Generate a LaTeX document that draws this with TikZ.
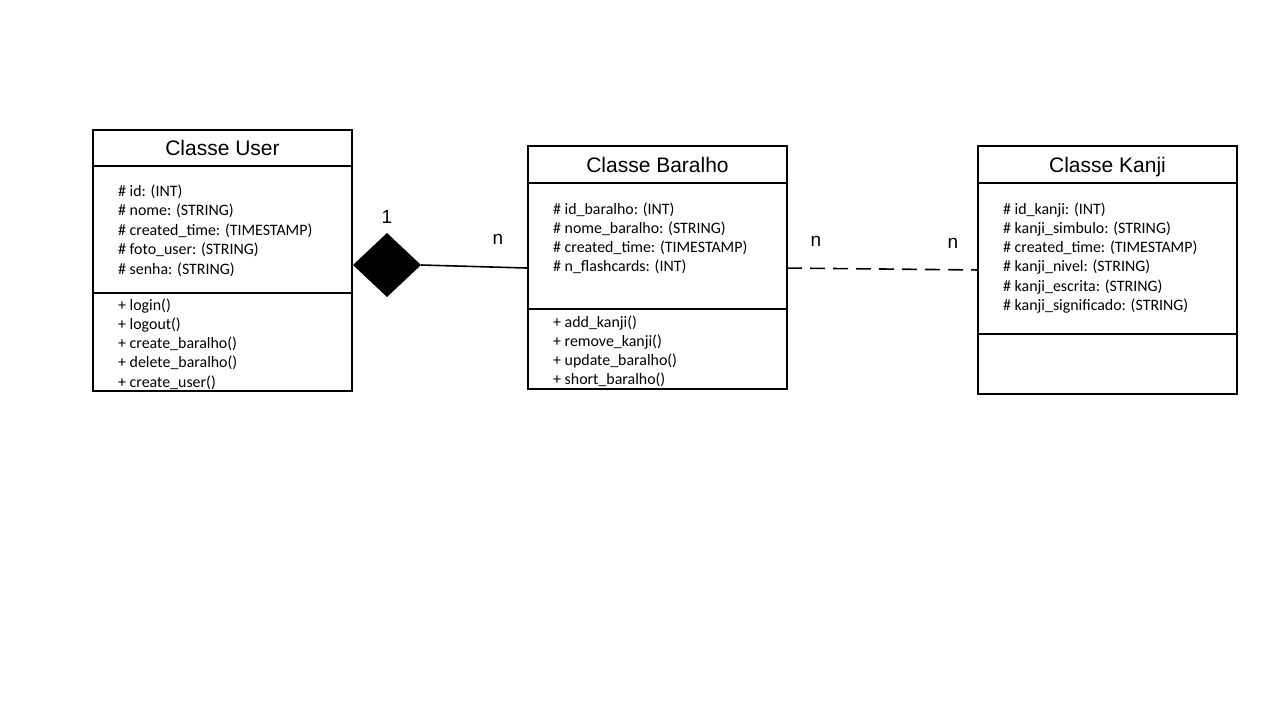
\documentclass[tikz,border=0pt]{standalone}
\usepackage{fontspec}
\setmainfont{Carlito}
\newfontfamily\titlefont{Liberation Sans}
\usetikzlibrary{shapes.geometric,calc}
\begin{document}
\begin{tikzpicture}[x=1pt,y=-1pt,
  cbox/.style={draw=black,line width=1.6pt,anchor=north west,inner sep=0pt,outer sep=0pt},
  ttl/.style={anchor=base,inner sep=0pt,font=\titlefont\fontsize{21}{25}\selectfont},
  attr/.style={anchor=base west,inner sep=0pt,font=\fontsize{15.9}{19}\selectfont},
  lbl/.style={font=\titlefont\fontsize{19}{23}\selectfont,inner sep=0pt},
  conn/.style={line width=1.6pt}]
\useasboundingbox[fill=white] (0,0) rectangle (1280,720);
% Classe User
\node[cbox,minimum width=259pt,minimum height=36pt] (uT) at (93,130) {};
\node[ttl] (uTt) at ($(uT.center)+(0,7.5)$) {Classe User};
\node[cbox,minimum width=259pt,minimum height=127pt] (uA) at (93,166) {};
\node[cbox,minimum width=259pt,minimum height=98pt] (uM) at (93,293) {};
\foreach \t [count=\i] in {{\# id: (INT)},{\# nome: (STRING)},{\# created\_time: (TIMESTAMP)},{\# foto\_user: (STRING)},{\# senha: (STRING)}}
  \node[attr] (ua\i) at (118,{196+19.5*(\i-1)}) {\t};
\foreach \t [count=\i] in {{+ login()},{+ logout()},{+ create\_baralho()},{+ delete\_baralho()},{+ create\_user()}}
  \node[attr] (um\i) at (118,{310+19.3*(\i-1)}) {\t};
% Classe Baralho
\node[cbox,minimum width=259pt,minimum height=37pt] (bT) at (528,146) {};
\node[ttl] (bTt) at ($(bT.center)+(0,7.5)$) {Classe Baralho};
\node[cbox,minimum width=259pt,minimum height=126pt] (bA) at (528,183) {};
\node[cbox,minimum width=259pt,minimum height=80pt] (bM) at (528,309) {};
\foreach \t [count=\i] in {{\# id\_baralho: (INT)},{\# nome\_baralho: (STRING)},{\# created\_time: (TIMESTAMP)},{\# n\_flashcards: (INT)}}
  \node[attr] (ba\i) at (553,{214+19.3*(\i-1)}) {\t};
\foreach \t [count=\i] in {{+ add\_kanji()},{+ remove\_kanji()},{+ update\_baralho()},{+ short\_baralho()}}
  \node[attr] (bm\i) at (553,{327+19.3*(\i-1)}) {\t};
% Classe Kanji
\node[cbox,minimum width=259pt,minimum height=37pt] (kT) at (978,146) {};
\node[ttl] (kTt) at ($(kT.center)+(0,7.5)$) {Classe Kanji};
\node[cbox,minimum width=259pt,minimum height=151pt] (kA) at (978,183) {};
\node[cbox,minimum width=259pt,minimum height=60pt] (kM) at (978,334) {};
\foreach \t [count=\i] in {{\# id\_kanji: (INT)},{\# kanji\_simbulo: (STRING)},{\# created\_time: (TIMESTAMP)},{\# kanji\_nivel: (STRING)},{\# kanji\_escrita: (STRING)},{\# kanji\_significado: (STRING)}}
  \node[attr] (ka\i) at (1003,{214+19.3*(\i-1)}) {\t};
% Composition
\node[diamond,fill=black,minimum width=68pt,minimum height=64pt,inner sep=0pt,outer sep=0pt,aspect=1.06] (dia) at (387,265) {};
\draw[conn] (dia.east) -- ($(bA.north west)!0.675!(bA.south west)$);
\draw[conn,dash pattern=on 15pt off 8pt] ($(bA.north east)!0.675!(bA.south east)$) -- ($(kA.north west)!0.576!(kA.south west)$);
\node[lbl] (l1) at (387,217) {1};
\node[lbl] (l2) at (498,239) {n};
\node[lbl] (l3) at (816,241) {n};
\node[lbl] (l4) at (953,243) {n};
\end{tikzpicture}
\end{document}
